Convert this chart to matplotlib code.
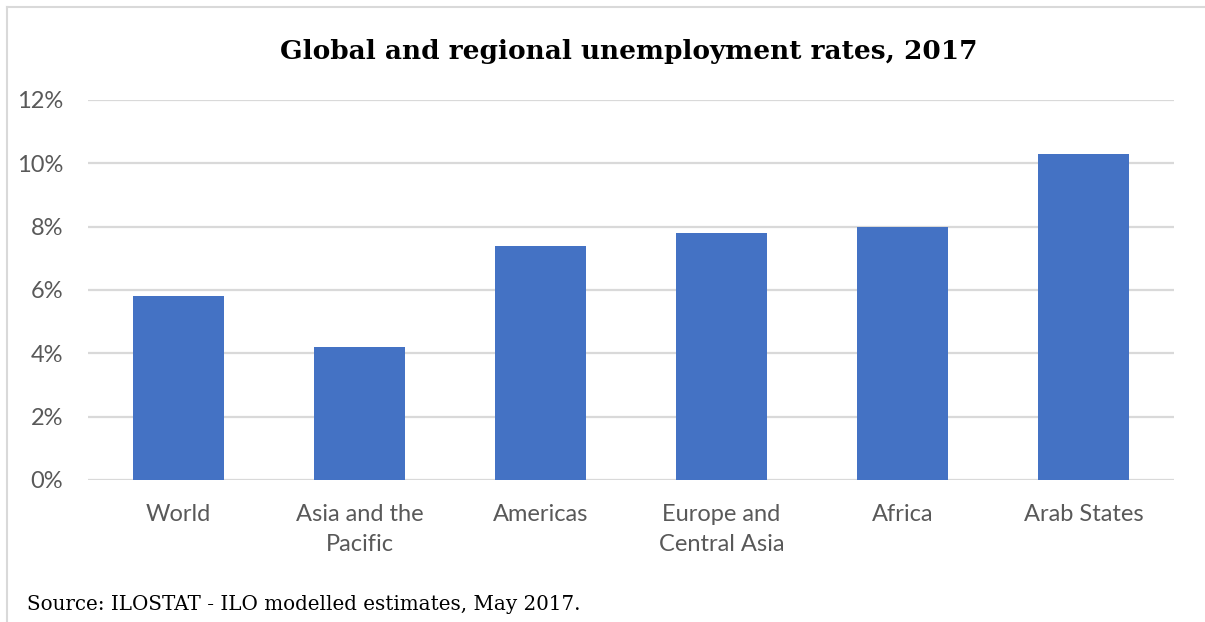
import matplotlib
matplotlib.use("Agg")
import matplotlib.pyplot as plt
from matplotlib.ticker import FuncFormatter
from matplotlib.lines import Line2D

categories = ["World", "Asia and the\nPacific", "Americas", "Europe and\nCentral Asia", "Africa", "Arab States"]
rates = [5.8, 4.2, 7.4, 7.8, 8.0, 10.3]
yticks = [0, 2, 4, 6, 8, 10, 12]

title = "Global and regional unemployment rates, 2017"
source = "Source: ILOSTAT - ILO modelled estimates, May 2017."

fig = plt.figure(figsize=(12.05, 6.22), dpi=100)
ax = fig.add_axes([88/1205, 1-480/622, (1174-88)/1205, 380/622])

x = list(range(len(categories)))
ax.bar(x, rates, width=0.5, color="#4472C4", zorder=3)
ax.set_xlim(-0.5, len(categories)-0.5)
ax.set_ylim(0, 12)
ax.set_yticks(yticks)
ax.yaxis.set_major_formatter(FuncFormatter(lambda v, p: f"{v:.0f}%"))
ax.set_xticks(x)
ax.set_xticklabels(categories, fontfamily="Lato", fontsize=17, color="#595959", linespacing=1.55)
for lab in ax.get_yticklabels():
    lab.set_fontfamily("Lato")
    lab.set_fontsize(17)
    lab.set_color("#595959")
ax.tick_params(axis="both", length=0)
ax.tick_params(axis="y", pad=18)
ax.tick_params(axis="x", pad=17)
ax.grid(axis="y", color="#d9d9d9", linewidth=1.6, zorder=0)
for s in ax.spines.values():
    s.set_visible(False)

fig.text(629/1205, 1-52/622, title, ha="center", va="center", fontfamily="DejaVu Serif",
         fontweight="bold", fontsize=19, color="black")
fig.text(27/1205, 1-605/622, source, ha="left", va="center", fontfamily="DejaVu Serif",
         fontsize=14.3, color="black")

fig.add_artist(Line2D([7/1205, 7/1205], [0, 1-7/622], transform=fig.transFigure, color="#d9d9d9", lw=1.5))
fig.add_artist(Line2D([7/1205, 1], [1-7/622, 1-7/622], transform=fig.transFigure, color="#d9d9d9", lw=1.5))

fig.savefig("out.png", dpi=100)
